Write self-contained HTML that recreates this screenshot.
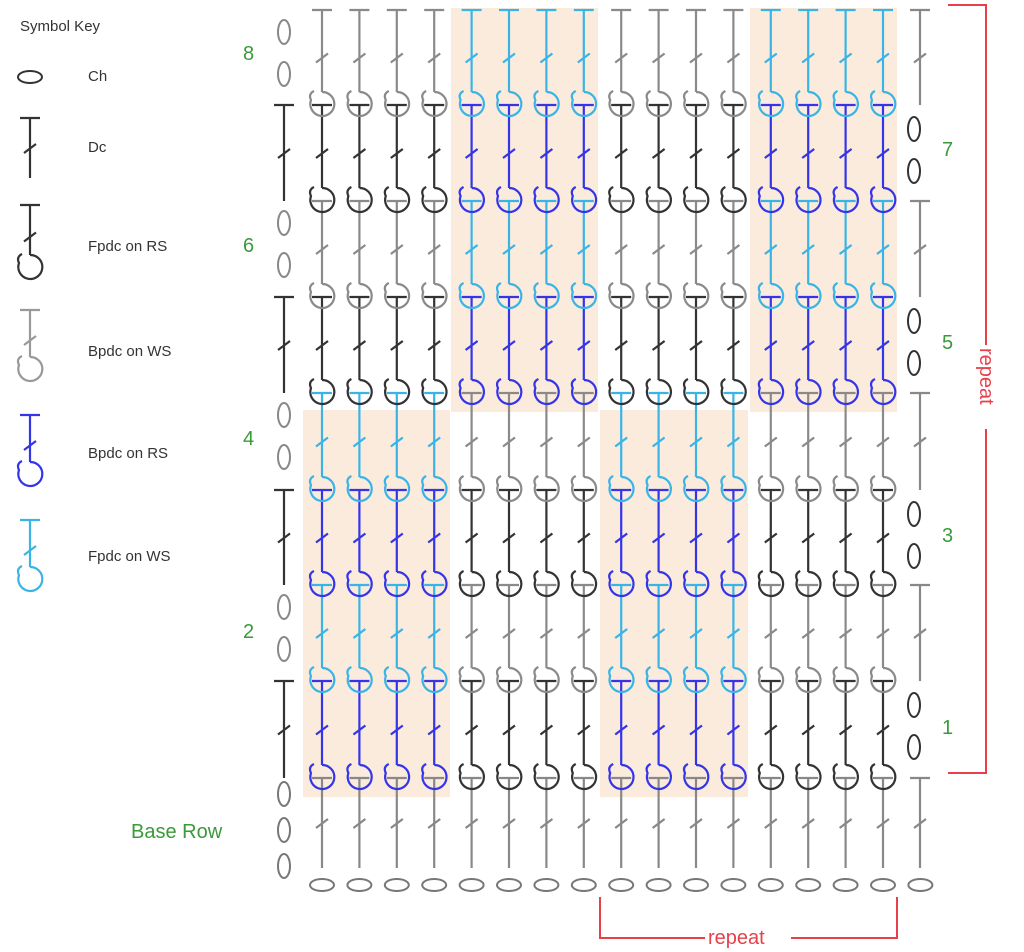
<!DOCTYPE html>
<html><head><meta charset="utf-8"><style>
html,body{margin:0;padding:0;background:#fff;width:1024px;height:952px;overflow:hidden}
svg{position:absolute;left:0;top:0}
text{font-family:"Liberation Sans",sans-serif}
</style></head><body>
<svg id="s" width="1024" height="952" viewBox="0 0 1024 952" xmlns="http://www.w3.org/2000/svg">
<g id="bg"></g><g id="st" fill="none" stroke-width="2.2"></g>
<text x="20" y="31" font-size="15" fill="#333">Symbol Key</text>
<text x="88" y="81" font-size="15" fill="#333">Ch</text>
<text x="88" y="152" font-size="15" fill="#333">Dc</text>
<text x="88" y="251" font-size="15" fill="#333">Fpdc on RS</text>
<text x="88" y="356" font-size="15" fill="#333">Bpdc on WS</text>
<text x="88" y="458" font-size="15" fill="#333">Bpdc on RS</text>
<text x="88" y="561" font-size="15" fill="#333">Fpdc on WS</text>
<g font-size="20" fill="#3a9a3a">
<text x="243" y="60">8</text><text x="243" y="252">6</text><text x="243" y="445">4</text><text x="243" y="638">2</text>
<text x="942" y="156">7</text><text x="942" y="349">5</text><text x="942" y="542">3</text><text x="942" y="734">1</text>
<text x="131" y="838">Base Row</text></g>
<g stroke="#e8404a" stroke-width="2" fill="none">
<path d="M948 5 H986 V773 H948"/><path d="M600 897 V938 H897 V897"/></g>
<rect x="977" y="345" width="18" height="84" fill="#fff"/>
<rect x="705" y="928" width="86" height="20" fill="#fff"/>
<text x="0" y="0" font-size="20" fill="#e8404a" transform="translate(980,348) rotate(90)">repeat</text>
<text x="708" y="944" font-size="20" fill="#e8404a">repeat</text>
</svg>
<script>
var NS="http://www.w3.org/2000/svg";
function el(p,t,a){var e=document.createElementNS(NS,t);for(var k in a)e.setAttribute(k,a[k]);p.appendChild(e);return e;}
var bg=document.getElementById('bg'),st=document.getElementById('st');
var X=[];for(var i=0;i<16;i++)X.push(322+i*37.4);
var tops=[10,105,201,297,393,490,585,681,778];
var SH='#fbebdc';
el(bg,'rect',{x:303,y:410,width:147,height:387,fill:SH});
el(bg,'rect',{x:600,y:410,width:148,height:387,fill:SH});
el(bg,'rect',{x:451,y:8,width:147,height:404,fill:SH});
el(bg,'rect',{x:750,y:8,width:147,height:404,fill:SH});
function dc(x,t,b,c,ring){
  var m=(t+b)/2;
  el(st,'path',{d:'M'+(x-10)+' '+t+'H'+(x+10)+'M'+x+' '+t+'V'+(ring?b-13:b)+'M'+(x-6)+' '+(m+5)+'L'+(x+6)+' '+(m-4),stroke:c});
  if(ring){
    el(st,'path',{d:'M'+x+' '+(b-13)+'A12 12 0 1 1 '+(x-11)+' '+(b-5)+'q-3 -6 3 -9',stroke:c});
  }
}
function ov(x,y,c,v){el(st,'ellipse',{cx:x,cy:y,rx:v?6:12,ry:v?12:6,stroke:c||'#777','stroke-width':2});}
// base row
for(var i=0;i<16;i++)dc(X[i],778,868,'#888',false);
dc(920,778,868,'#888',false);
ov(284,794,'#777',1);ov(284,830,'#777',1);ov(284,866,'#777',1);
for(var i=0;i<17;i++)ov(322+i*37.4,885,'#777',0);
for(var r=1;r<=8;r++){
  var t=tops[8-r],b=tops[9-r];
  for(var c=0;c<16;c++){
    var sh=r<=4?(c%8<4):(c%8>=4);
    var col=(r%2)?(sh?'#3535e8':'#333'):(sh?'#3ab4e6':'#8a8a8a');
    dc(X[c],t,b,col,true);
  }
  if(r%2){dc(284,t,b,'#333',false);ov(914,t+24,'#333',1);ov(914,t+66,'#333',1);}
  else{dc(920,t,b,'#888',false);ov(284,t+22,'#888',1);ov(284,t+64,'#888',1);}
}
// legend symbols
ov(30,77,'#333',0);
dc(30,118,178,'#333',false);
dc(30,205,268,'#333',true);
dc(30,310,370,'#999',true);
dc(30,415,475,'#3535e8',true);
dc(30,520,580,'#3ab4e6',true);
</script>
</body></html>
